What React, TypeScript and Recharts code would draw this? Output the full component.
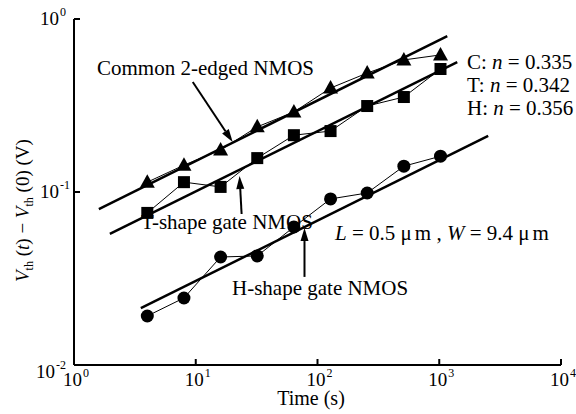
import React from 'react'
import { ComposedChart, Scatter, Line, XAxis, YAxis, ReferenceLine } from 'recharts'

// time points (s)
const timeS = [4, 8, 16, 32, 64, 128, 256, 512, 1024]

// threshold voltage shift (V)
const commonV = [0.114, 0.143, 0.175, 0.238, 0.29, 0.399, 0.487, 0.58, 0.62]
const tShapeV = [0.0757, 0.114, 0.107, 0.157, 0.213, 0.225, 0.314, 0.354, 0.514]
const hShapeV = [0.0192, 0.0244, 0.0421, 0.0427, 0.0628, 0.0912, 0.0987, 0.141, 0.161]

// power-law fit lines
const commonFitX = [1.6, 1164]
const commonFitY = [0.0797, 0.797]
const tShapeFitX = [1.97, 1405]
const tShapeFitY = [0.0572, 0.564]
const hShapeFitX = [3.54, 2523]
const hShapeFitY = [0.0213, 0.211]

const xTicks = [1, 10, 100, 1000, 10000]
const yTicks = [0.01, 0.1, 1]

// annotation arrows: [from, to] in data units
const commonArrow = [{ x: 9.45, y: 0.432 }, { x: 20.1, y: 0.1945 }]
const tShapeArrow = [{ x: 23.8, y: 0.0746 }, { x: 22.9, y: 0.1238 }]
const hShapeArrow = [{ x: 78.2, y: 0.0323 }, { x: 78.2, y: 0.0619 }]

const FONT = '"Liberation Serif", "Times New Roman", serif'

const toPoints = (xs: number[], ys: number[]) => xs.map((x, i) => ({ x, y: ys[i] }))

const commonData = toPoints(timeS, commonV)
const tShapeData = toPoints(timeS, tShapeV)
const hShapeData = toPoints(timeS, hShapeV)
const commonFit = toPoints(commonFitX, commonFitY)
const tShapeFit = toPoints(tShapeFitX, tShapeFitY)
const hShapeFit = toPoints(hShapeFitX, hShapeFitY)

const Triangle = (props: any) => {
  const { cx, cy } = props
  return <polygon points={`${cx},${cy - 8} ${cx - 7.5},${cy + 5.5} ${cx + 7.5},${cy + 5.5}`} fill="#000" />
}

const Square = (props: any) => {
  const { cx, cy } = props
  return <rect x={cx - 6} y={cy - 6} width={12} height={12} fill="#000" />
}

const Dot = (props: any) => {
  const { cx, cy } = props
  return <circle cx={cx} cy={cy} r={6.5} fill="#000" />
}

const Arrow = (props: any) => {
  const { x1, y1, x2, y2 } = props
  const ang = Math.atan2(y2 - y1, x2 - x1)
  const len = 13
  const half = 4
  const bx = x2 - len * Math.cos(ang)
  const by = y2 - len * Math.sin(ang)
  const px = -Math.sin(ang) * half
  const py = Math.cos(ang) * half
  return (
    <g>
      <line x1={x1} y1={y1} x2={bx} y2={by} stroke="#000" strokeWidth={2} />
      <polygon points={`${x2},${y2} ${bx + px},${by + py} ${bx - px},${by - py}`} fill="#000" />
    </g>
  )
}

const XTick = (props: any) => {
  const { x, y, payload } = props
  const e = Math.round(Math.log10(payload.value))
  return (
    <g>
      {e > 0 && <line x1={x} y1={y} x2={x} y2={y - 6} stroke="#000" strokeWidth={2} />}
      <text x={x + 8} y={y + 21} textAnchor="end" fontFamily={FONT} fontSize={19} fill="#000">
        10
      </text>
      <text x={x + 9} y={y + 12} fontFamily={FONT} fontSize={12} fill="#000">
        {e}
      </text>
    </g>
  )
}

const YTick = (props: any) => {
  const { x, y, payload } = props
  const e = Math.round(Math.log10(payload.value))
  const dy = e === -2 ? 7 : 0
  const dx = e === -2 ? -4 : 0
  return (
    <g>
      {e > -2 && <line x1={x} y1={y} x2={x + 6} y2={y} stroke="#000" strokeWidth={2} />}
      <text x={x - 15 + dx} y={y + dy + 6} textAnchor="end" fontFamily={FONT} fontSize={19} fill="#000">
        10
      </text>
      <text x={x - 14 + dx} y={y + dy - 3} fontFamily={FONT} fontSize={12} fill="#000">
        {e}
      </text>
    </g>
  )
}

export default function App() {
  return (
    <div style={{ position: 'absolute', left: 0, top: 0, width: 576, height: 414, background: '#fff' }}>
      <ComposedChart width={576} height={414} margin={{ top: 19, right: 15, bottom: 48, left: 73 }}>
        <XAxis
          dataKey="x"
          type="number"
          scale="log"
          domain={[1, 10000]}
          ticks={xTicks}
          allowDataOverflow
          height={1}
          tickSize={0}
          tickMargin={0}
          tickLine={false}
          axisLine={{ stroke: '#000', strokeWidth: 2 }}
          tick={<XTick />}
          interval={0}
        />
        <YAxis
          dataKey="y"
          type="number"
          scale="log"
          domain={[0.01, 1]}
          ticks={yTicks}
          allowDataOverflow
          width={1}
          tickSize={0}
          tickMargin={0}
          tickLine={false}
          axisLine={{ stroke: '#000', strokeWidth: 2 }}
          tick={<YTick />}
          interval={0}
        />
        <Line data={commonFit} dataKey="y" stroke="#000" strokeWidth={2.5} dot={false} isAnimationActive={false} />
        <Line data={tShapeFit} dataKey="y" stroke="#000" strokeWidth={2.5} dot={false} isAnimationActive={false} />
        <Line data={hShapeFit} dataKey="y" stroke="#000" strokeWidth={2.5} dot={false} isAnimationActive={false} />
        <Scatter data={commonData} line={{ stroke: '#000', strokeWidth: 1 }} shape={<Triangle />} isAnimationActive={false} />
        <Scatter data={tShapeData} line={{ stroke: '#000', strokeWidth: 1 }} shape={<Square />} isAnimationActive={false} />
        <Scatter data={hShapeData} line={{ stroke: '#000', strokeWidth: 1 }} shape={<Dot />} isAnimationActive={false} />
        <ReferenceLine segment={commonArrow} shape={<Arrow />} ifOverflow="visible" />
        <ReferenceLine segment={tShapeArrow} shape={<Arrow />} ifOverflow="visible" />
        <ReferenceLine segment={hShapeArrow} shape={<Arrow />} ifOverflow="visible" />
      </ComposedChart>
      <svg width={576} height={414} style={{ position: 'absolute', left: 0, top: 0, pointerEvents: 'none' }}>
        <g fontFamily={FONT} fill="#000">
          <text x={97} y={75} fontSize={21}>Common 2-edged NMOS</text>
          <text x={141} y={229} fontSize={21}>T-shape gate NMOS</text>
          <text x={232} y={295} fontSize={21}>H-shape gate NMOS</text>
          <text x={467} y={69} fontSize={21}>C: <tspan fontStyle="italic">n</tspan> = 0.335</text>
          <text x={467} y={92} fontSize={21}>T: <tspan fontStyle="italic">n</tspan> = 0.342</text>
          <text x={467} y={115} fontSize={21}>H: <tspan fontStyle="italic">n</tspan> = 0.356</text>
          <text x={335} y={240} fontSize={21}>
            <tspan fontStyle="italic">L</tspan> = 0.5  μ<tspan dx={3}>m</tspan> , <tspan fontStyle="italic">W</tspan> = 9.4  μ<tspan dx={3}>m</tspan>
          </text>
          <text x={311} y={405} fontSize={20} textAnchor="middle">Time (s)</text>
          <text transform="translate(29,282) rotate(-90)" fontSize={19}>
            <tspan fontStyle="italic">V</tspan>
            <tspan fontSize={12} dy={4}>th</tspan>
            <tspan dy={-4}> (</tspan>
            <tspan fontStyle="italic">t</tspan>
            <tspan>) − </tspan>
            <tspan fontStyle="italic">V</tspan>
            <tspan fontSize={12} dy={4}>th</tspan>
            <tspan dy={-4}> (0) (V)</tspan>
          </text>
        </g>
      </svg>
    </div>
  )
}
